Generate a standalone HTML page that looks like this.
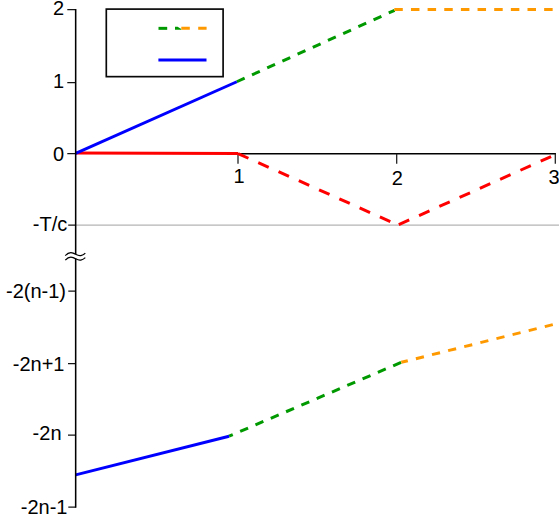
<!DOCTYPE html>
<html><head><meta charset="utf-8"><title>chart</title>
<style>html,body{margin:0;padding:0;background:#fff;overflow:hidden;font-family:"Liberation Sans",sans-serif}svg{display:block;position:absolute;left:0;top:0}</style>
</head><body>
<svg width="559" height="514" viewBox="0 0 559 514">
<rect width="559" height="514" fill="#fff"/>
<!-- grey reference line -->
<path d="M75.67 225.15H559" stroke="#b4b4b4" stroke-width="1.3" fill="none"/>
<!-- axes -->
<g stroke="#000" stroke-width="1.3" fill="none">
<path d="M237 153.65H555.95" stroke-width="1.5"/>
<path d="M67.3 9.7H75.7M67.3 82.6H75.7M67.3 153.6H75.7M68.2 225.0H75.7M68.3 291.0H75.7M68.0 363.6H75.7M68.0 435.0H75.7M68.3 507.2H75.7" stroke="#141414" stroke-width="1.25"/>
<path d="M238.00 153.65V163.8M396.70 153.65V163.8M555.30 153.65V163.8" stroke="#1c1c1c" stroke-width="1.25"/>
<path d="M65.3 255.6C67.5 253.2 70.5 252 73.2 253.1C76 254.2 78 256.3 80.8 255.6C82.6 255.1 84.2 254.2 85.3 253.1"/>
<path d="M65.3 260.1C67.5 257.7 70.5 256.5 73.2 257.6C76 258.7 78 260.8 80.8 260.1C82.6 259.6 84.2 258.7 85.3 257.6"/>
</g>
<!-- legend -->
<rect x="106.3" y="9.1" width="116.8" height="67.55" fill="#fff" stroke="#080808" stroke-width="1.68"/>
<path d="M158.5 28.35H167.2" stroke="#009900" stroke-width="3" fill="none"/>
<path d="M175 26.85H177.6L181.3 29V29.85H175Z" fill="#009900"/>
<path d="M181.3 28.35H189.8M198.2 28.35H206.6" stroke="#ff9900" stroke-width="3" fill="none"/>
<path d="M158.4 60H206.5" stroke="#0000ff" stroke-width="3" fill="none"/>
<!-- data lines -->
<g fill="none" stroke-width="3">
<path d="M75.67 152.9L238 153.5" stroke="#ff0000"/>
<path d="M238 153.6L397.3 224.7" stroke="#ff0000" stroke-dasharray="11.4 10.8"/>
<path d="M398.8 224.6L556 154.35" stroke="#ff0000" stroke-dasharray="11.4 10.8"/>
<path d="M236.8 81.75L394.6 10.3" stroke="#009900" stroke-dasharray="8.6 8.08"/>
<path d="M394.3 9.58H553" stroke="#ff9900" stroke-dasharray="8.5 8.15"/>
<path d="M75.67 153.45L236.8 81.75" stroke="#0000ff"/>
<path d="M229.1 436.2L401.3 362.3" stroke="#009900" stroke-dasharray="8.6 8.05" stroke-dashoffset="4.6"/>
<path d="M401.3 362.3L553.6 324.45" stroke="#ff9900" stroke-dasharray="8.25 8.35" stroke-dashoffset="1.55"/>
<path d="M75.67 474.85L229.1 436.2" stroke="#0000ff"/>
</g>
<!-- y axis on top of data lines -->
<path d="M75.67 9.05V254.1M75.67 258.4V507.85" stroke="#000" stroke-width="1.55" fill="none"/>
<!-- labels -->
<g fill="#000" font-family="'Liberation Sans', sans-serif" font-size="20">
<text x="64" y="15.1" text-anchor="end">2</text>
<text x="64" y="87.85" text-anchor="end">1</text>
<text x="64" y="160.6" text-anchor="end">0</text>
<text x="67.3" y="230.7" text-anchor="end">-T/c</text>
<text x="66" y="297.8" text-anchor="end">-2(n-1)</text>
<text x="64.5" y="371.4" text-anchor="end">-2n+1</text>
<text x="61.5" y="439.8" text-anchor="end">-2n</text>
<text x="67.5" y="514" text-anchor="end">-2n-1</text>
<text x="239" y="182.5" text-anchor="middle">1</text>
<text x="397.2" y="184.6" text-anchor="middle">2</text>
<text x="554" y="183.6" text-anchor="middle">3</text>
</g>
</svg>
</body></html>
